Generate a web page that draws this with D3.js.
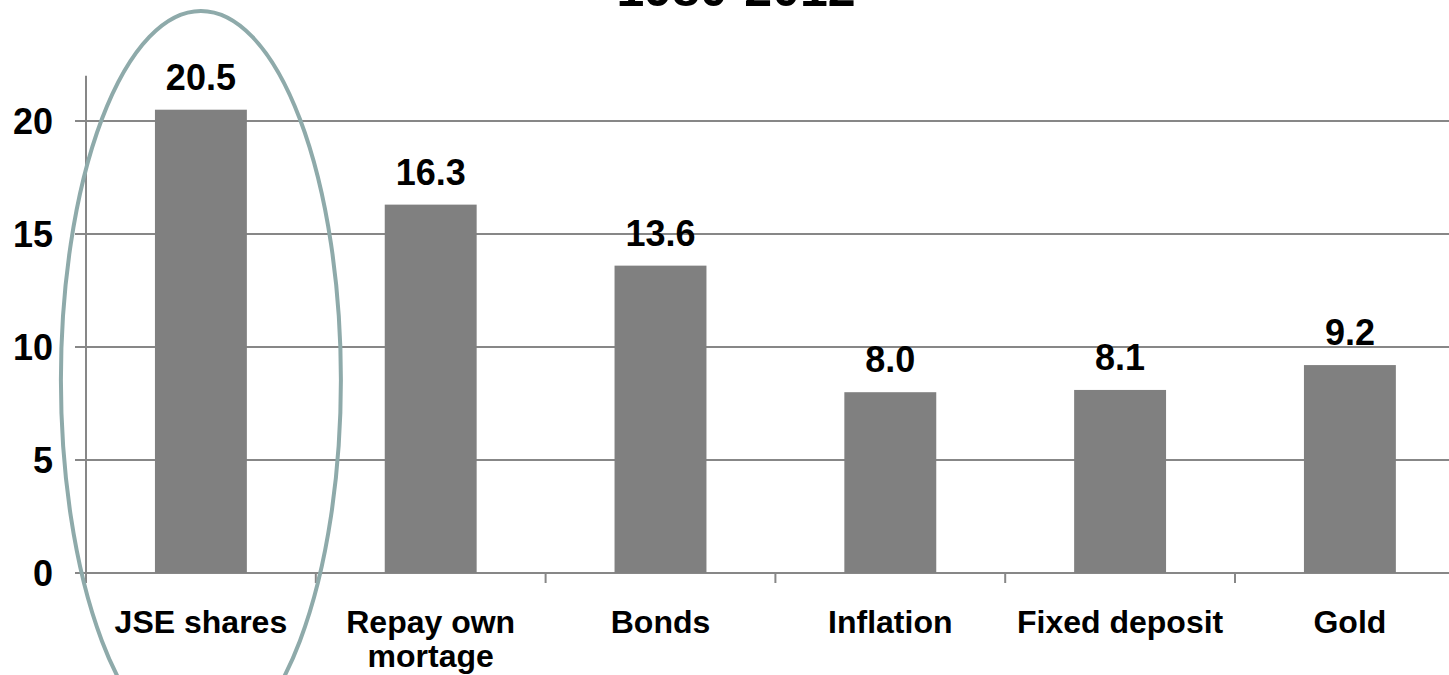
<!DOCTYPE html>
<html>
<head>
<meta charset="utf-8">
<script src="https://cdn.jsdelivr.net/npm/d3@7"></script>
<style>
  body { margin: 0; background: #fff; }
  text { font-family: "Liberation Sans", Arial, sans-serif; font-weight: bold; fill: #000; }
</style>
</head>
<body>
<div id="chart"></div>
<script>
// chart data
let categories = ["JSE shares", "Repay own mortage", "Bonds", "Inflation", "Fixed deposit", "Gold"];
let categoryLines = [["JSE shares"], ["Repay own", "mortage"], ["Bonds"], ["Inflation"], ["Fixed deposit"], ["Gold"]];
let returns = [20.5, 16.3, 13.6, 8.0, 8.1, 9.2];
let yTicks = [0, 5, 10, 15, 20];
let titleText = "1980-2012";

let svgWidth = 1449;
let svgHeight = 675;

let margin = { top: 75, left: 86, bottom: 102 };
let plotBottom = svgHeight - margin.bottom;

var svg = d3.select("#chart")
    .append("svg")
    .attr("width", svgWidth)
    .attr("height", svgHeight);

// scales
var xBand = d3.scaleBand()
    .domain(categories)
    .range([margin.left, margin.left + 6 * 229.8])
    .paddingInner(0.6)
    .paddingOuter(0.3);

var step = xBand.step();

var yScale = d3.scaleLinear()
    .domain([0, 22])
    .range([plotBottom, plotBottom - 22 * 22.6]);

// title (cut off at the top, as in the source slide)
svg.append("text")
    .attr("x", 736)
    .attr("y", 6)
    .attr("text-anchor", "middle")
    .attr("font-size", "50px")
    .text(titleText);

// gridlines
svg.append("g")
    .selectAll("line")
    .data(yTicks)
    .enter()
    .append("line")
    .attr("x1", margin.left - 11)
    .attr("x2", svgWidth)
    .attr("y1", d => yScale(d))
    .attr("y2", d => yScale(d))
    .attr("stroke", "#878787")
    .attr("stroke-width", 2);

// y axis line
svg.append("line")
    .attr("x1", margin.left)
    .attr("x2", margin.left)
    .attr("y1", yScale(22))
    .attr("y2", plotBottom)
    .attr("stroke", "#878787")
    .attr("stroke-width", 2);

// y tick labels
svg.append("g")
    .selectAll("text")
    .data(yTicks)
    .enter()
    .append("text")
    .attr("x", 53)
    .attr("y", d => yScale(d))
    .attr("dy", "0.36em")
    .attr("text-anchor", "end")
    .attr("font-size", "36px")
    .text(d => d);

// category tick marks at band edges
var edges = categories.map(c => xBand(c) - (step - xBand.bandwidth()) / 2);
edges.push(edges[edges.length - 1] + step);
svg.append("g")
    .selectAll("line")
    .data(edges)
    .enter()
    .append("line")
    .attr("x1", d => d)
    .attr("x2", d => d)
    .attr("y1", plotBottom)
    .attr("y2", plotBottom + 10)
    .attr("stroke", "#878787")
    .attr("stroke-width", 2);

// bars
svg.append("g")
    .selectAll("rect")
    .data(returns)
    .enter()
    .append("rect")
    .attr("x", (d, i) => xBand(categories[i]))
    .attr("y", d => yScale(d))
    .attr("width", xBand.bandwidth())
    .attr("height", d => plotBottom - yScale(d))
    .attr("fill", "#808080");

// value labels
svg.append("g")
    .selectAll("text")
    .data(returns)
    .enter()
    .append("text")
    .attr("x", (d, i) => xBand(categories[i]) + xBand.bandwidth() / 2)
    .attr("y", d => yScale(d) - 20)
    .attr("text-anchor", "middle")
    .attr("font-size", "36px")
    .text(d => d.toFixed(1));

// category labels
var catLabels = svg.append("g")
    .selectAll("text")
    .data(categoryLines)
    .enter()
    .append("text")
    .attr("x", (d, i) => xBand(categories[i]) + xBand.bandwidth() / 2)
    .attr("y", 633)
    .attr("text-anchor", "middle")
    .attr("font-size", "32px");

catLabels.selectAll("tspan")
    .data(d => d)
    .enter()
    .append("tspan")
    .attr("x", function() { return d3.select(this.parentNode).attr("x"); })
    .attr("dy", (d, i) => i === 0 ? 0 : 34)
    .text(d => d);

// highlight ellipse around the first category
var cx0 = xBand(categories[0]) + xBand.bandwidth() / 2;
svg.append("ellipse")
    .attr("cx", cx0)
    .attr("cy", 380)
    .attr("rx", 140)
    .attr("ry", 369)
    .attr("fill", "none")
    .attr("stroke", "#8eaaaa")
    .attr("stroke-width", 4);
</script>
</body>
</html>
